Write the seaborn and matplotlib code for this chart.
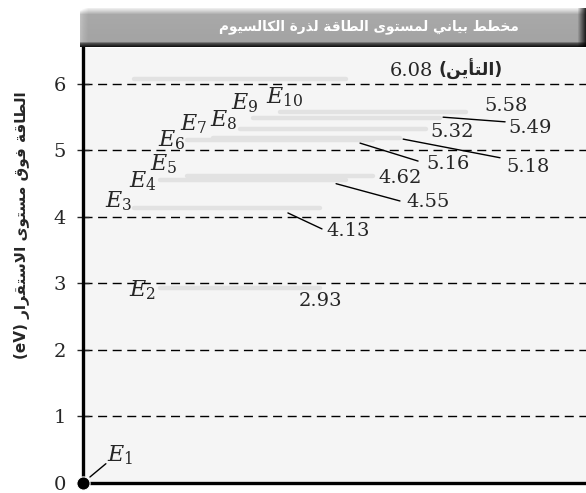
import numpy as np
import pandas as pd
import matplotlib
matplotlib.use('Agg')
import matplotlib.pyplot as plt
import seaborn as sns

# مستويات الطاقة لذرة الكالسيوم (eV)
level_names = ['E2', 'E3', 'E4', 'E5', 'E6', 'E7', 'E8', 'E9', 'E10', 'ion']
energies = [2.93, 4.13, 4.55, 4.62, 5.16, 5.18, 5.32, 5.49, 5.58, 6.08]
bar_start = [2, 1, 2, 3, 3, 4, 5, 5.5, 6.5, 1]
bar_len = [6, 7, 7, 7, 7, 7, 7, 7, 7, 8]
ground = 0.0

title_ar = 'مخطط بياني لمستوى الطاقة لذرة الكالسيوم'
ylabel_ar = 'الطاقة فوق مستوى الاستقرار'
ion_ar = 'التأين'

# matplotlib لا يشكّل الحروف العربية، لذلك نستعمل أشكال العرض
AR = {'ا': (0xFE8D, 2), 'أ': (0xFE83, 2), 'ب': (0xFE8F, 4), 'ة': (0xFE93, 2),
      'ت': (0xFE95, 4), 'خ': (0xFEA5, 4), 'ذ': (0xFEAB, 2), 'ر': (0xFEAD, 2),
      'س': (0xFEB1, 4), 'ط': (0xFEC1, 4), 'ف': (0xFED1, 4), 'ق': (0xFED5, 4),
      'ك': (0xFED9, 4), 'ل': (0xFEDD, 4), 'م': (0xFEE1, 4), 'ن': (0xFEE5, 4),
      'و': (0xFEED, 2), 'ى': (0xFEEF, 2), 'ي': (0xFEF1, 4)}


def shape(text):
    out = []
    i = 0
    while i < len(text):
        c = text[i]
        if c not in AR:
            out.append(c)
            i += 1
            continue
        prev = text[i - 1] if i > 0 else ''
        jp = prev in AR and AR[prev][1] == 4
        if c == 'ل' and i + 1 < len(text) and text[i + 1] in 'اأ':
            base = 0xFEFB if text[i + 1] == 'ا' else 0xFEF7
            out.append(chr(base + (1 if jp else 0)))
            i += 2
            continue
        nxt = text[i + 1] if i + 1 < len(text) else ''
        base, n = AR[c]
        jn = n == 4 and nxt in AR
        form = 3 if (jp and jn) else 2 if jn else 1 if jp else 0
        out.append(chr(base + form))
        i += 1
    return ''.join(reversed(out))


sns.set_theme(style='ticks')
plt.rcParams['font.family'] = ['DejaVu Serif', 'DejaVu Sans']
plt.rcParams['mathtext.fontset'] = 'dejavuserif'

df = pd.DataFrame({
    'level': np.repeat(level_names, 2),
    'x': np.ravel([[s, s + l] for s, l in zip(bar_start, bar_len)]),
    'energy': np.repeat(energies, 2),
})

fig = plt.figure(figsize=(5.86, 4.93), dpi=100)
fig.patch.set_facecolor('white')
ax = fig.add_axes([83 / 586, 10 / 493, 503 / 586, 435 / 493])
ax.set_facecolor('#f5f5f5')

ax.grid(axis='y', color='black', lw=1.0, linestyle=(0, (6.5, 4)))
ax.set_axisbelow(True)

sns.lineplot(data=df, x='x', y='energy', units='level', estimator=None,
             sort=False, color='#e2e2e2', lw=3.2, ax=ax, legend=False)
sns.scatterplot(x=[-0.9], y=[ground], s=90, color='black', ax=ax,
                clip_on=False, zorder=5, legend=False)

ax.set_xlim(-0.9, 18)
ax.set_ylim(0, 6.54)
ax.set_xticks([])
ax.set_yticks(range(7))
ax.set_yticklabels([str(i) for i in range(7)], fontsize=14)
ax.tick_params(axis='y', direction='inout', length=9, width=1.0, pad=8)
ax.set_xlabel('')
ax.set_ylabel('')
for s in ['top', 'right']:
    ax.spines[s].set_visible(False)
for s in ['left', 'bottom']:
    ax.spines[s].set_linewidth(2.4)
    ax.spines[s].set_color('black')

# أسماء المستويات
e_pos = {'E1': (0.49, 0.42), 'E2': (1.35, 2.90), 'E3': (0.42, 4.24),
         'E4': (1.35, 4.53), 'E5': (2.14, 4.80), 'E6': (2.44, 5.16),
         'E7': (3.27, 5.40), 'E8': (4.40, 5.46), 'E9': (5.19, 5.71),
         'E10': (6.69, 5.80)}
for name, (x, y) in e_pos.items():
    ax.text(x, y, r'$E_{%s}$' % name[1:], fontsize=16, ha='center',
            va='center')
ax.plot([-0.64, -0.04], [0.09, 0.29], color='black', lw=1.0)

# قيم الطاقة مع خطوط الإشارة
val_pos = {2.93: (8.04, 2.74, None), 4.13: (9.06, 3.79, (6.80, 4.06, 8.08, 3.82)),
           4.55: (12.07, 4.23, (8.61, 4.50, 11.01, 4.24)), 4.62: (11.01, 4.59, None),
           5.16: (12.82, 4.80, (9.51, 5.11, 11.69, 4.84)),
           5.18: (15.82, 4.75, (11.13, 5.17, 14.77, 4.89)),
           5.32: (12.97, 5.28, None),
           5.49: (15.90, 5.34, (12.63, 5.50, 14.96, 5.43)),
           5.58: (15.00, 5.67, None)}
for v, (x, y, line) in val_pos.items():
    ax.text(x, y, '%.2f' % v, fontsize=14, ha='center', va='center')
    if line:
        ax.plot([line[0], line[2]], [line[1], line[3]], color='black', lw=1.0)

ax.text(12.25, 6.20, '%.2f' % energies[-1], fontsize=14, ha='right', va='center')
ax.text(12.45, 6.21, '(' + shape(ion_ar) + ')', fontsize=12.5, ha='left',
        va='center', family=['DejaVu Sans'], fontweight='bold')

# شريط العنوان
band = fig.add_axes([80 / 586, 1 - 47 / 493, 506 / 586, 39 / 493])
rows = np.interp(np.arange(39), [0, 2, 6, 33, 35, 38], [0.93, 0.85, 0.66, 0.64, 0.3, 0.08])
cols = np.interp(np.arange(506), [0, 3, 8, 497, 501, 505], [1.15, 1.08, 1.0, 1.0, 0.6, 0.2])
grad = np.clip(np.outer(rows, cols), 0, 1)
band.imshow(grad, cmap='gray', vmin=0, vmax=1, aspect='auto', interpolation='bilinear')
band.set_axis_off()
band.text(0.57, 0.52, shape(title_ar), color='white', fontsize=9.8,
          fontweight='bold', family=['DejaVu Sans'], ha='center', va='center',
          transform=band.transAxes)

fig.text(22 / 586, 1 - 225 / 493, '(eV) ' + shape(ylabel_ar), rotation=90,
         fontsize=11, fontweight='bold', family=['DejaVu Sans'],
         ha='center', va='center')

fig.savefig('out.png', dpi=100)
